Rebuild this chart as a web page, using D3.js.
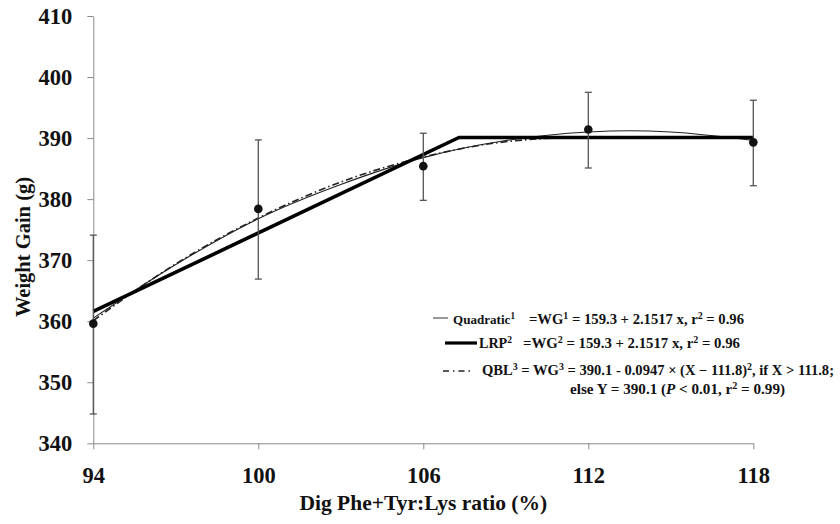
<!DOCTYPE html>
<html>
<head>
<meta charset="utf-8">
<script src="https://cdn.jsdelivr.net/npm/d3@7"></script>
<style>
  html, body { margin: 0; padding: 0; background: #fff; }
  svg { display: block; }
  text { font-family: "Liberation Serif", "Times New Roman", serif; font-weight: bold; fill: #111; }
</style>
</head>
<body>
<svg id="chart" width="840" height="524"></svg>
<script>
// ---- data ----
const xTicks = [94, 100, 106, 112, 118];
const yTicks = [340, 350, 360, 370, 380, 390, 400, 410];
const ratio = [94, 100, 106, 112, 118];
const weightGain = [359.6, 378.4, 385.4, 391.4, 389.3];
const errLow = [344.8, 366.9, 379.8, 385.1, 382.2];
const errHigh = [374.1, 389.7, 390.8, 397.5, 396.2];
// fitted lines
const quadX = [94, 97, 100, 103, 106, 109, 112, 113.5, 115, 118];
const quadY = [360.5, 369.3, 376.8, 382.4, 386.8, 389.6, 391.0, 391.2, 391.0, 389.6];
const lrpX = [94, 107.3, 118];
const lrpY = [361.6, 390.1, 390.1];
const qblX = [94, 97, 100, 103, 106, 109, 111.8, 118];
const qblY = [360.1, 369.4, 376.9, 382.8, 386.9, 389.4, 390.1, 390.1];

const svg = d3.select("#chart");
const x = d3.scaleLinear().domain([94, 118]).range([93.3, 753.3]);
const y = d3.scaleLinear().domain([340, 410]).range([443.3, 16]);

const axisColor = "#8a8a8a";
const serif = "Liberation Serif, Times New Roman, serif";

// x axis
const gx = svg.append("g").attr("transform", `translate(0,${y(340)})`)
  .call(d3.axisBottom(x).tickValues(xTicks).tickSize(6).tickSizeOuter(0).tickFormat(d3.format("d")));
gx.select(".domain").attr("stroke", axisColor);
gx.selectAll(".tick line").attr("stroke", axisColor);
gx.selectAll(".tick text").attr("font-size", 22.5).attr("font-family", serif).attr("font-weight", "bold")
  .attr("fill", "#111").attr("y", 0).attr("dy", 40);

// y axis
const gy = svg.append("g").attr("transform", `translate(${x(94)},0)`)
  .call(d3.axisLeft(y).tickValues(yTicks).tickSize(6).tickSizeOuter(0).tickFormat(d3.format("d")));
gy.select(".domain").attr("stroke", axisColor);
gy.selectAll(".tick line").attr("stroke", axisColor);
gy.selectAll(".tick text").attr("font-size", 22.5).attr("font-family", serif).attr("font-weight", "bold")
  .attr("fill", "#111").attr("x", -21).attr("dy", "0.34em");

// axis titles
svg.append("text").attr("x", (x(94) + x(118)) / 2).attr("y", 510)
  .attr("text-anchor", "middle").attr("font-size", 21.5).text("Dig Phe+Tyr:Lys ratio (%)");
svg.append("text").attr("transform", `translate(30,247) rotate(-90)`)
  .attr("text-anchor", "middle").attr("font-size", 20.5).text("Weight Gain (g)");

// lines
const line = d3.line().x(d => x(d[0])).y(d => y(d[1]));
const curve = d3.line().x(d => x(d[0])).y(d => y(d[1])).curve(d3.curveMonotoneX);

svg.append("path").datum(quadX.map((v, i) => [v, quadY[i]]))
  .attr("d", curve).attr("fill", "none").attr("stroke", "#222").attr("stroke-width", 1.1);
svg.append("path").datum(qblX.map((v, i) => [v, qblY[i]]))
  .attr("d", curve).attr("fill", "none").attr("stroke", "#222").attr("stroke-width", 1.6)
  .attr("stroke-dasharray", "7,3,1.5,3");
svg.append("path").datum(lrpX.map((v, i) => [v, lrpY[i]]))
  .attr("d", line).attr("fill", "none").attr("stroke", "#000").attr("stroke-width", 3.6);

// error bars
const eb = svg.append("g").attr("stroke", "#555").attr("stroke-width", 1.3);
ratio.forEach((r, i) => {
  eb.append("line").attr("x1", x(r)).attr("x2", x(r)).attr("y1", y(errLow[i])).attr("y2", y(errHigh[i]));
  eb.append("line").attr("x1", x(r) - 3.5).attr("x2", x(r) + 3.5).attr("y1", y(errLow[i])).attr("y2", y(errLow[i]));
  eb.append("line").attr("x1", x(r) - 3.5).attr("x2", x(r) + 3.5).attr("y1", y(errHigh[i])).attr("y2", y(errHigh[i]));
});

// points
svg.append("g").selectAll("circle").data(ratio).join("circle")
  .attr("cx", d => x(d)).attr("cy", (d, i) => y(weightGain[i])).attr("r", 4.3).attr("fill", "#111");

// legend
const lg = svg.append("g");
function addText(xp, yp, len, parts, fs) {
  const t = lg.append("text").attr("x", xp).attr("y", yp).attr("font-size", fs || 14)
    .attr("textLength", len).attr("lengthAdjust", "spacingAndGlyphs");
  parts.forEach(p => {
    const s = t.append("tspan").text(p.t);
    if (p.sup) s.attr("font-size", 9.5).attr("baseline-shift", "super");
    if (p.i) s.attr("font-style", "italic");
  });
  return t;
}
lg.append("line").attr("x1", 433).attr("x2", 448).attr("y1", 318).attr("y2", 318).attr("stroke", "#555").attr("stroke-width", 1.2);
addText(453, 324, 62, [{t: "Quadratic"}, {t: "1", sup: true}], 13.5);
addText(529, 324, 215, [{t: "=WG"}, {t: "1", sup: true}, {t: " = 159.3 + 2.1517 x, r"}, {t: "2", sup: true}, {t: " = 0.96"}]);

lg.append("line").attr("x1", 445).attr("x2", 477).attr("y1", 343).attr("y2", 343).attr("stroke", "#000").attr("stroke-width", 3.2);
addText(479, 348, 33, [{t: "LRP"}, {t: "2", sup: true}]);
addText(523, 348, 217, [{t: "=WG"}, {t: "2", sup: true}, {t: " = 159.3 + 2.1517 x, r"}, {t: "2", sup: true}, {t: " = 0.96"}]);

lg.append("line").attr("x1", 443).attr("x2", 470).attr("y1", 371).attr("y2", 371).attr("stroke", "#222").attr("stroke-width", 1.6)
  .attr("stroke-dasharray", "6,4,1.5,4");
addText(482, 375, 352, [{t: "QBL"}, {t: "3", sup: true}, {t: " = WG"}, {t: "3", sup: true}, {t: " = 390.1 - 0.0947 × (X − 111.8)"}, {t: "2", sup: true}, {t: ", if X > 111.8;"}]);
addText(570, 394, 215, [{t: "else Y = 390.1 ("}, {t: "P", i: true}, {t: " < 0.01, r"}, {t: "2", sup: true}, {t: " = 0.99)"}]);
</script>
</body>
</html>
